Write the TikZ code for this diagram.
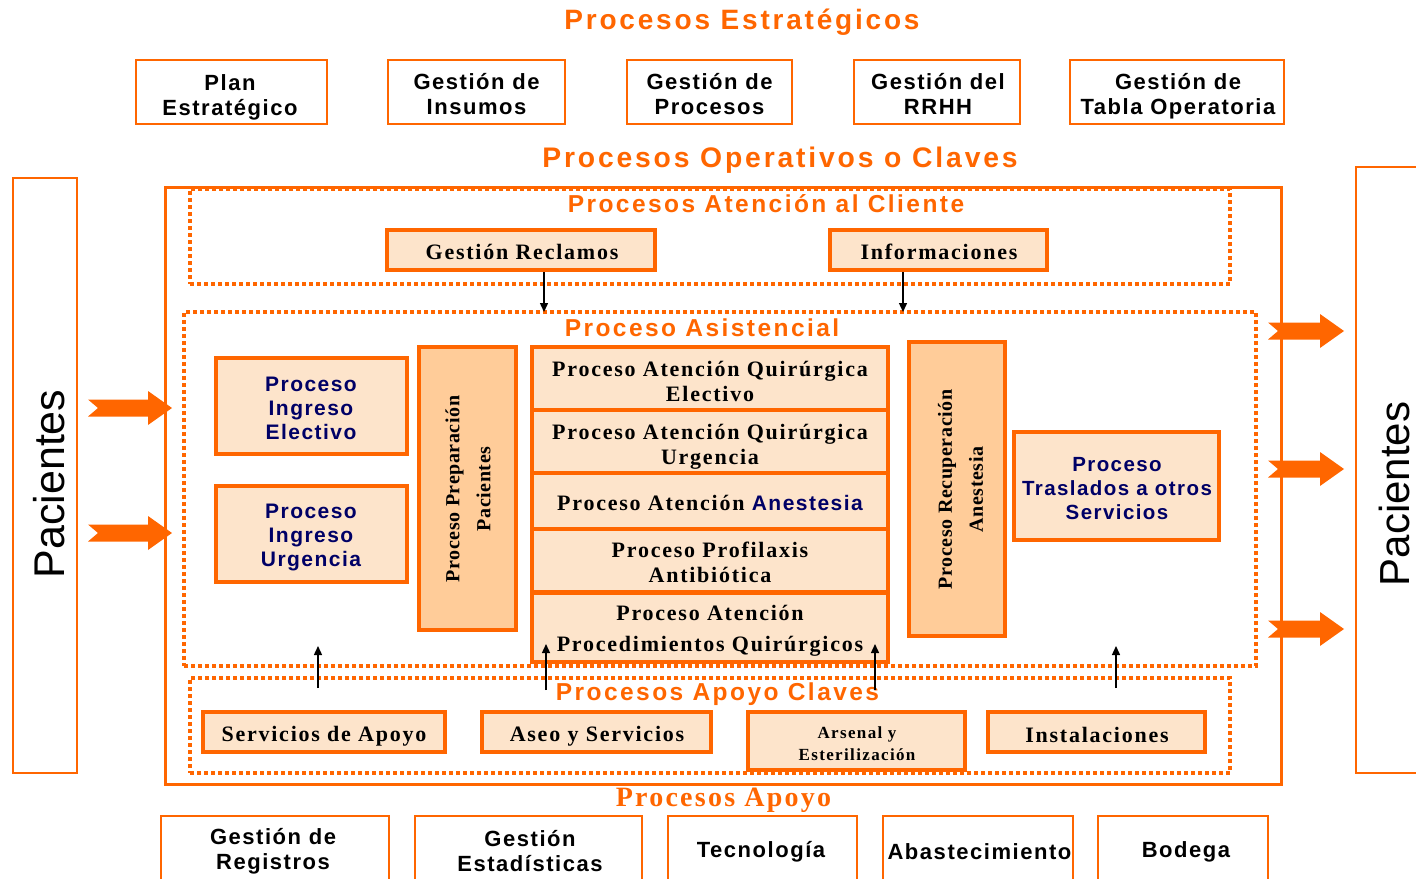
\documentclass[tikz,border=0pt]{standalone}
\usepackage{fontspec}
\setmainfont{Liberation Serif}
\setsansfont{Liberation Sans}
\newfontfamily\sfsp[LetterSpace=10]{Liberation Sans}
\newfontfamily\sfbx[LetterSpace=7]{Liberation Sans}
\newfontfamily\rmsp[LetterSpace=8]{Liberation Serif}
\newfontfamily\rmvt[LetterSpace=3]{Liberation Serif}
\usetikzlibrary{arrows.meta}
\definecolor{orng}{HTML}{FF6600}
\definecolor{peach}{HTML}{FDE4CB}
\definecolor{peachd}{HTML}{FFCC99}
\definecolor{navy}{HTML}{000066}
\tikzset{
  ttl/.style={text=orng,inner sep=0pt,font=\sfsp\bfseries\fontsize{24.5}{26}\selectfont},
  thinbox/.style={draw=orng,line width=1.3pt,fill=white,inner sep=0pt},
  tallbox/.style={draw=orng,line width=1.2pt,fill=white,inner sep=0pt},
  pbox/.style={draw=orng,line width=4pt,fill=peach,inner sep=0pt},
  vbox/.style={draw=orng,line width=4pt,fill=peachd,inner sep=0pt},
  ptext/.style={inner sep=0pt,align=center,font=\rmsp\bfseries\fontsize{22}{25}\selectfont},
  ntext/.style={inner sep=0pt,align=center,text=navy,font=\sfbx\bfseries\fontsize{21}{24}\selectfont},
  vtext/.style={rotate=90,align=center,inner sep=0pt,font=\rmvt\bfseries\fontsize{20}{31}\selectfont},
  dotbox/.style={draw=orng,line width=3.5pt,dash pattern=on 4pt off 3pt,inner sep=0pt},
  conn/.style={draw=black,line width=1.4pt,-{Triangle[length=9pt,width=8pt]}},
  btext/.style={inner sep=0pt,align=center,font=\sfbx\bfseries\fontsize{22}{25}\selectfont},
}
\newcommand\parrow[3]{\fill[orng,shift={(#1,#2)}] (0,-8.5) -- (#3-24,-8.5) -- (#3-24,-17) -- (#3,0) -- (#3-24,17) -- (#3-24,8.5) -- (0,8.5) -- (10,0) -- cycle;}
\begin{document}
\begin{tikzpicture}[x=1pt,y=-1pt]
\useasboundingbox (0,0) rectangle (1416,878);
\fill[white] (0,0) rectangle (1416,878);

% strategic
\node[ttl,font=\sfsp\bfseries\fontsize{28}{30}\selectfont] (tst) at (742,22) {Procesos Estratégicos};
\node[thinbox,minimum width=191,minimum height=64] (plan) at (231.5,92) {};
\node[btext] (plant) at (230,97) {Plan\\Estratégico};
\node[thinbox,minimum width=177,minimum height=64] (ins) at (476.5,92) {};
\node[btext] (inst0) at (476.5,94) {Gestión de\\Insumos};
\node[thinbox,minimum width=165,minimum height=64] (gpro) at (709.5,92) {};
\node[btext] (gprot) at (709.5,94) {Gestión de\\Procesos};
\node[thinbox,minimum width=166,minimum height=64] (rrhh) at (937,92) {};
\node[btext] (rrhht) at (938,94) {Gestión del\\RRHH};
\node[thinbox,minimum width=214,minimum height=64] (tabla) at (1177,92) {};
\node[btext] (tablat) at (1178,96) {Gestión de\\Tabla Operatoria};

\node[ttl,font=\sfsp\bfseries\fontsize{28.3}{30}\selectfont] (top) at (780,160) {Procesos Operativos o Claves};

% side boxes
\node[tallbox,minimum width=64,minimum height=595] (pl) at (45,475.5) {};
\node[rotate=90,inner sep=0pt,font=\sffamily\fontsize{43}{45}\selectfont] (plt) at (49,484) {Pacientes};
\node[tallbox,minimum width=70,minimum height=606] (pr) at (1391,470) {};
\node[rotate=90,inner sep=0pt,font=\sffamily\fontsize{42}{44}\selectfont] (prt) at (1394,494) {Pacientes};

% main frame
\node[draw=orng,line width=3pt,minimum width=1116,minimum height=597,inner sep=0pt] (main) at (723,485.5) {};

% atencion cliente
\node[dotbox,minimum width=1040,minimum height=95] (cli) at (710,236.5) {};
\node[ttl] (tcli) at (766,204) {Procesos Atención al Cliente};
\node[pbox,minimum width=268,minimum height=40] (gr) at (521,250) {};
\node[ptext] (grt) at (522,252) {Gestión Reclamos};
\node[pbox,minimum width=217,minimum height=40] (inf) at (938.5,250) {};
\node[ptext] (inft) at (939,252) {Informaciones};

% asistencial
\node[dotbox,minimum width=1072,minimum height=354] (asis) at (720,489) {};
\node[ttl] (tasis) at (702,328) {Proceso Asistencial};
\node[pbox,minimum width=191,minimum height=96] (pie) at (311.5,406) {};
\node[ntext] (piet) at (311,408.5) {Proceso\\Ingreso\\Electivo};
\node[pbox,minimum width=191,minimum height=96] (piu) at (311.5,534) {};
\node[ntext] (piut) at (311,537.5) {Proceso\\Ingreso\\Urgencia};
\node[vbox,minimum width=97,minimum height=283] (prep) at (467.5,488.5) {};
\node[vtext] (prept) at (468,489) {Proceso Preparación\\Pacientes};
\node[pbox,minimum width=356,minimum height=63] (b1) at (710,378.5) {};
\node[ptext] (b1t) at (710,381.5) {Proceso Atención Quirúrgica\\Electivo};
\node[pbox,minimum width=356,minimum height=63] (b2) at (710,441.5) {};
\node[ptext] (b2t) at (710,447) {Proceso Atención Quirúrgica\\Urgencia};
\node[pbox,minimum width=356,minimum height=56] (b3) at (710,501) {};
\node[ptext] (b3t) at (710,503) {Proceso Atención {\sfbx\bfseries\fontsize{21}{24}\selectfont\color{navy}Anestesia}};
\node[pbox,minimum width=356,minimum height=63] (b4) at (710,560.5) {};
\node[ptext] (b4t) at (710,562.5) {Proceso Profilaxis\\Antibiótica};
\node[pbox,minimum width=356,minimum height=69] (b5) at (710,627) {};
\node[ptext,font=\rmsp\bfseries\fontsize{22}{31}\selectfont] (b5t) at (710,631) {Proceso Atención\\Procedimientos Quirúrgicos};
\node[vbox,minimum width=96,minimum height=294] (rec) at (957,489) {};
\node[vtext] (rect) at (960.5,489.5) {Proceso Recuperación\\Anestesia};
\node[pbox,minimum width=205,minimum height=108] (tras) at (1116.5,486) {};
\node[ntext,font=\sfbx\bfseries\fontsize{20.5}{24}\selectfont] (trast) at (1117,488.5) {Proceso\\Traslados a otros\\Servicios};

% apoyo claves
\node[dotbox,minimum width=1040,minimum height=95] (apc) at (710,725.5) {};
\node[ttl] (tapc) at (717.5,694.5) {Procesos Apoyo Claves};
\node[pbox,minimum width=242,minimum height=40] (serv) at (324,732) {};
\node[ptext] (servt) at (324,736) {Servicios de Apoyo};
\node[pbox,minimum width=229,minimum height=40] (aseo) at (596.5,732) {};
\node[ptext] (aseot) at (597,736) {Aseo y Servicios};
\node[pbox,minimum width=217,minimum height=58] (ars) at (856.5,741) {};
\node[ptext,font=\rmsp\bfseries\fontsize{17}{22}\selectfont] (arst) at (857,744) {Arsenal y\\Esterilización};
\node[pbox,minimum width=217,minimum height=40] (inst) at (1096.5,732) {};
\node[ptext] (instt) at (1097,735) {Instalaciones};

% procesos apoyo
\node[text=orng,inner sep=0pt,font=\rmsp\bfseries\fontsize{28}{30}\selectfont] (tapo) at (723.5,800.5) {Procesos Apoyo};
\node[tallbox,line width=1.3pt,minimum width=228,minimum height=120] (reg) at (275,876) {};
\node[btext] (regt) at (273,851.5) {Gestión de\\Registros};
\node[tallbox,line width=1.3pt,minimum width=227,minimum height=120] (est) at (528.5,876) {};
\node[btext] (estt) at (530,851.5) {Gestión\\Estadísticas};
\node[tallbox,line width=1.3pt,minimum width=189,minimum height=120] (tec) at (762.5,876) {};
\node[btext] (tect) at (761,852) {Tecnología};
\node[tallbox,line width=1.3pt,minimum width=190,minimum height=120] (aba) at (978,876) {};
\node[btext] (abat) at (979.5,852) {Abastecimiento};
\node[tallbox,line width=1.3pt,minimum width=170,minimum height=120] (bod) at (1183,876) {};
\node[btext] (bodt) at (1186,852) {Bodega};

% connectors
\coordinate (d1) at (544,312);
\coordinate (d2) at (903,312);
\draw[conn] (gr.south -| d1) -- (d1);
\draw[conn] (inf.south -| d2) -- (d2);
\coordinate (u1a) at (318,688); \coordinate (u1b) at (318,646);
\coordinate (u2a) at (546,690); \coordinate (u2b) at (546,644);
\coordinate (u3a) at (875,690); \coordinate (u3b) at (875,644);
\coordinate (u4a) at (1116,688); \coordinate (u4b) at (1116,646);
\draw[conn] (u1a) -- (u1b);
\draw[conn] (u2a) -- (u2b);
\draw[conn] (u3a) -- (u3b);
\draw[conn] (u4a) -- (u4b);

% block arrows
\parrow{88}{408}{84}
\parrow{88}{533}{84}
\parrow{1268}{331}{76}
\parrow{1268}{469}{76}
\parrow{1268}{629}{76}
\end{tikzpicture}
\end{document}
